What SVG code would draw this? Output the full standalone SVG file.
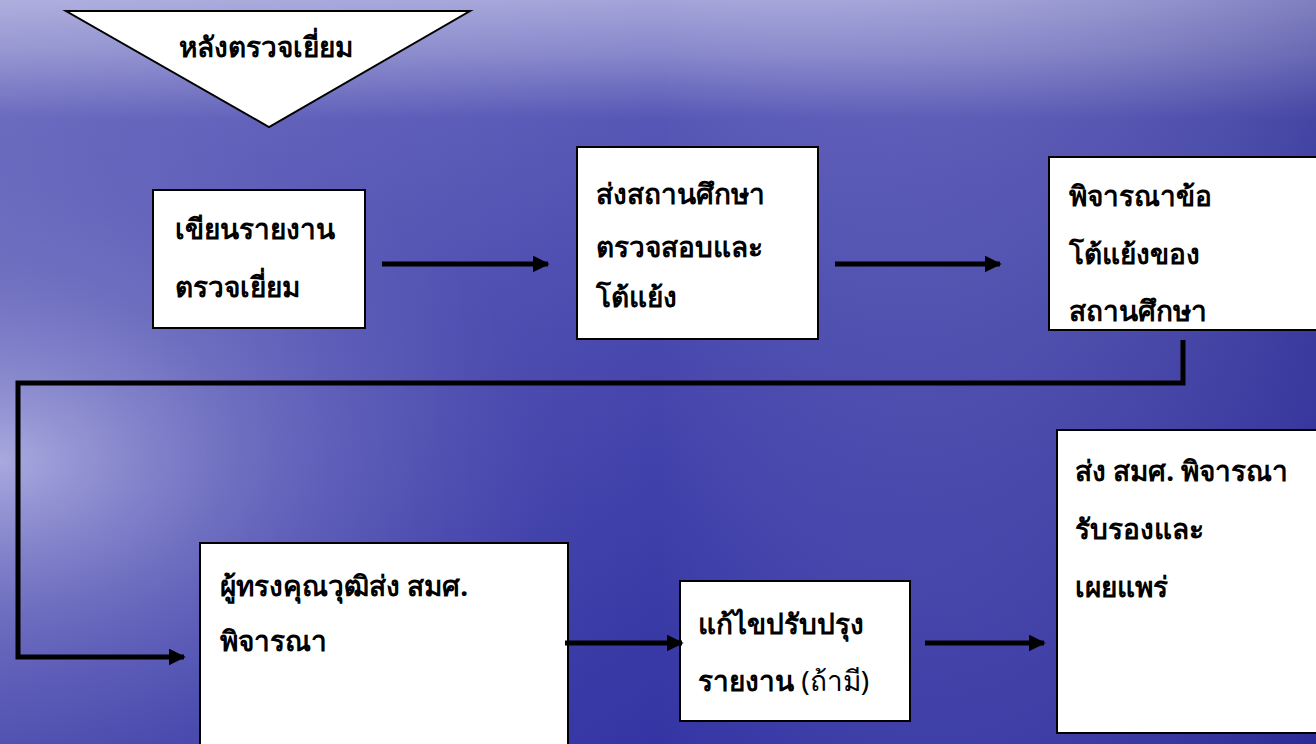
<svg xmlns="http://www.w3.org/2000/svg" width="1316" height="744" viewBox="0 0 1316 744">
<defs>
<linearGradient id="bg" x1="0" y1="0" x2="0" y2="1">
<stop offset="0" stop-color="#a4a4da"/>
<stop offset="0.07" stop-color="#8888cc"/>
<stop offset="0.16" stop-color="#5656b6"/>
<stop offset="0.45" stop-color="#4848ae"/>
<stop offset="1" stop-color="#3434a4"/>
</linearGradient>
<linearGradient id="side" x1="0" y1="0" x2="1" y2="0">
<stop offset="0" stop-color="#ffffff" stop-opacity="0.12"/>
<stop offset="0.5" stop-color="#ffffff" stop-opacity="0"/>
<stop offset="1" stop-color="#101070" stop-opacity="0.25"/>
</linearGradient>
<radialGradient id="glow" cx="0.0" cy="0.62" r="0.42" gradientTransform="translate(0,0.62) scale(1,1.1) translate(0,-0.62)">
<stop offset="0" stop-color="#c4c4ec" stop-opacity="0.75"/>
<stop offset="0.5" stop-color="#9494d4" stop-opacity="0.35"/>
<stop offset="1" stop-color="#7070c4" stop-opacity="0"/>
</radialGradient>
<marker id="ah" viewBox="0 0 10 10" refX="9" refY="5" markerWidth="3.4" markerHeight="3.4" orient="auto" markerUnits="strokeWidth">
<path d="M0,0 L10,5 L0,10 z" fill="#000"/>
</marker>
</defs>
<style>
.box{fill:#fff;stroke:#000;stroke-width:2}
.t{font-family:"Noto Sans","Liberation Serif",serif;font-weight:bold;font-size:28px;fill:#000}
.c{fill:none;stroke:#000;stroke-width:5}
</style>
<rect width="1316" height="744" fill="url(#bg)"/>
<rect width="1316" height="744" fill="url(#side)"/>
<rect width="1316" height="744" fill="url(#glow)"/>

<g id="start">
<polygon points="66,11 470,11 269,127" class="box"/>
<text class="t" x="266" y="57" text-anchor="middle">หลังตรวจเยี่ยม</text>
</g>
<g id="n1">
<rect x="153" y="190" width="212" height="138" class="box"/>
<text class="t" x="175" y="239">เขียนรายงาน</text>
<text class="t" x="175" y="297">ตรวจเยี่ยม</text>
</g>
<g id="n2">
<rect x="577" y="147" width="241" height="192" class="box"/>
<text class="t" x="596" y="204">ส่งสถานศึกษา</text>
<text class="t" x="596" y="257">ตรวจสอบและ</text>
<text class="t" x="596" y="307">โต้แย้ง</text>
</g>
<g id="n3">
<rect x="1049" y="157" width="280" height="173" class="box"/>
<text class="t" x="1069" y="206">พิจารณาข้อ</text>
<text class="t" x="1069" y="264">โต้แย้งของ</text>
<text class="t" x="1069" y="321">สถานศึกษา</text>
</g>
<g id="n4">
<rect x="200" y="543" width="368" height="220" class="box"/>
<text class="t" x="220" y="596">ผู้ทรงคุณวุฒิส่ง สมศ.</text>
<text class="t" x="220" y="651">พิจารณา</text>
</g>
<g id="n5">
<rect x="680" y="581" width="230" height="140" class="box"/>
<text class="t" x="698" y="634">แก้ไขปรับปรุง</text>
<text class="t" x="698" y="691">รายงาน <tspan font-weight="normal">(ถ้ามี)</tspan></text>
</g>
<g id="n6">
<rect x="1057" y="430" width="280" height="303" class="box"/>
<text class="t" x="1075" y="481">ส่ง สมศ. พิจารณา</text>
<text class="t" x="1075" y="539">รับรองและ</text>
<text class="t" x="1075" y="597">เผยแพร่</text>
</g>
<g id="connectors">
<line x1="382" y1="264" x2="548" y2="264" class="c" marker-end="url(#ah)"/>
<line x1="835" y1="264" x2="1000" y2="264" class="c" marker-end="url(#ah)"/>
<polyline points="1183,340 1183,383 18,383 18,657 184,657" class="c" stroke-width="6" marker-end="url(#ah)"/>
<line x1="565" y1="643" x2="682" y2="643" class="c" marker-end="url(#ah)"/>
<line x1="925" y1="643" x2="1044" y2="643" class="c" marker-end="url(#ah)"/>
</g>
</svg>
